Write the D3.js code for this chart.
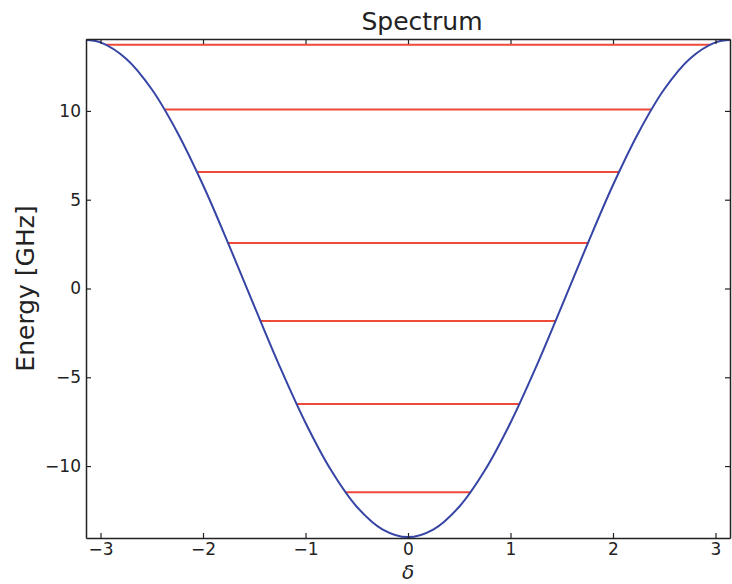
<!DOCTYPE html>
<html>
<head>
<meta charset="utf-8">
<script src="https://cdn.jsdelivr.net/npm/d3@7"></script>
<style>
  html, body { margin: 0; padding: 0; background: #ffffff; }
  svg { display: block; }
  text { font-family: "DejaVu Sans", sans-serif; fill: #222; }
</style>
</head>
<body>
<svg id="chart" width="732" height="584"></svg>
<script>
// Potential curve: phase δ (rad) vs energy (GHz)
const curveDelta = [-3.1416, -3.0, -2.75, -2.5, -2.25, -2.0, -1.75, -1.5, -1.25, -1.0, -0.75, -0.5, -0.25,
                    0.0, 0.25, 0.5, 0.75, 1.0, 1.25, 1.5, 1.75, 2.0, 2.25, 2.5, 2.75, 3.0, 3.1416];
const curveEnergy = [14.0, 13.86, 12.94, 11.22, 8.79, 5.83, 2.49, -0.99, -4.41, -7.56, -10.24, -12.29, -13.56,
                     -14.0, -13.56, -12.29, -10.24, -7.56, -4.41, -0.99, 2.49, 5.83, 8.79, 11.22, 12.94, 13.86, 14.0];

// Energy levels (GHz) and the half-width in δ where each meets the potential
const levelEnergy = [-11.47, -6.51, -1.83, 2.56, 6.56, 10.08, 13.72];
const levelHalfWidth = [0.61, 1.09, 1.44, 1.76, 2.06, 2.37, 2.95];

// Axis ticks
const xTicks = [-3, -2, -1, 0, 1, 2, 3];
const yTicks = [-10, -5, 0, 5, 10];

const svg = d3.select("#chart");
const plotLeft = 86, plotRight = 730, plotTop = 39, plotBottom = 538;

const x = d3.scaleLinear().domain([-Math.PI, Math.PI]).range([plotLeft, plotRight]);
const y = d3.scaleLinear().domain([-14.05, 14.05]).range([plotBottom, plotTop]);

const fmt = d => d < 0 ? "\u2212" + Math.abs(d) : String(d);
const tickLen = 5;

// Energy levels
svg.append("g")
  .selectAll("line")
  .data(levelEnergy)
  .join("line")
  .attr("x1", (d, i) => x(-levelHalfWidth[i]))
  .attr("x2", (d, i) => x(levelHalfWidth[i]))
  .attr("y1", d => y(d))
  .attr("y2", d => y(d))
  .attr("stroke", "#ee4a38")
  .attr("stroke-width", 2);

// Potential curve
const pts = curveDelta.map((d, i) => [d, curveEnergy[i]]);
svg.append("path")
  .datum(pts)
  .attr("fill", "none")
  .attr("stroke", "#3645a5")
  .attr("stroke-width", 2)
  .attr("d", d3.line().x(d => x(d[0])).y(d => y(d[1])).curve(d3.curveCatmullRom.alpha(0.5)));

// Axes with inward ticks on all four sides
const axisBottom = svg.append("g").attr("transform", `translate(0,${plotBottom})`)
  .call(d3.axisBottom(x).tickValues(xTicks).tickFormat(fmt).tickSizeInner(-tickLen).tickSizeOuter(0).tickPadding(5));
const axisTop = svg.append("g").attr("transform", `translate(0,${plotTop})`)
  .call(d3.axisTop(x).tickValues(xTicks).tickFormat("").tickSizeInner(-tickLen).tickSizeOuter(0));
const axisLeft = svg.append("g").attr("transform", `translate(${plotLeft},0)`)
  .call(d3.axisLeft(y).tickValues(yTicks).tickFormat(fmt).tickSizeInner(-tickLen).tickSizeOuter(0).tickPadding(5));
const axisRight = svg.append("g").attr("transform", `translate(${plotRight},0)`)
  .call(d3.axisRight(y).tickValues(yTicks).tickFormat("").tickSizeInner(-tickLen).tickSizeOuter(0));

[axisBottom, axisTop, axisLeft, axisRight].forEach(g => {
  g.select(".domain").attr("stroke", "#222").attr("stroke-width", 1.5);
  g.selectAll(".tick line").attr("stroke", "#222").attr("stroke-width", 1.2);
  g.selectAll(".tick text").attr("font-size", 17).attr("font-family", "DejaVu Sans, sans-serif").attr("fill", "#222");
});

// Title and axis labels
svg.append("text")
  .attr("x", (plotLeft + plotRight) / 2 + 14).attr("y", 30)
  .attr("text-anchor", "middle")
  .attr("font-size", 25)
  .text("Spectrum");

svg.append("text")
  .attr("transform", `translate(34,${(plotTop + plotBottom) / 2}) rotate(-90)`)
  .attr("text-anchor", "middle")
  .attr("font-size", 25)
  .text("Energy [GHz]");

svg.append("text")
  .attr("x", x(0)).attr("y", 579)
  .attr("text-anchor", "middle")
  .attr("font-size", 20)
  .attr("font-style", "italic")
  .text("δ");
</script>
</body>
</html>
